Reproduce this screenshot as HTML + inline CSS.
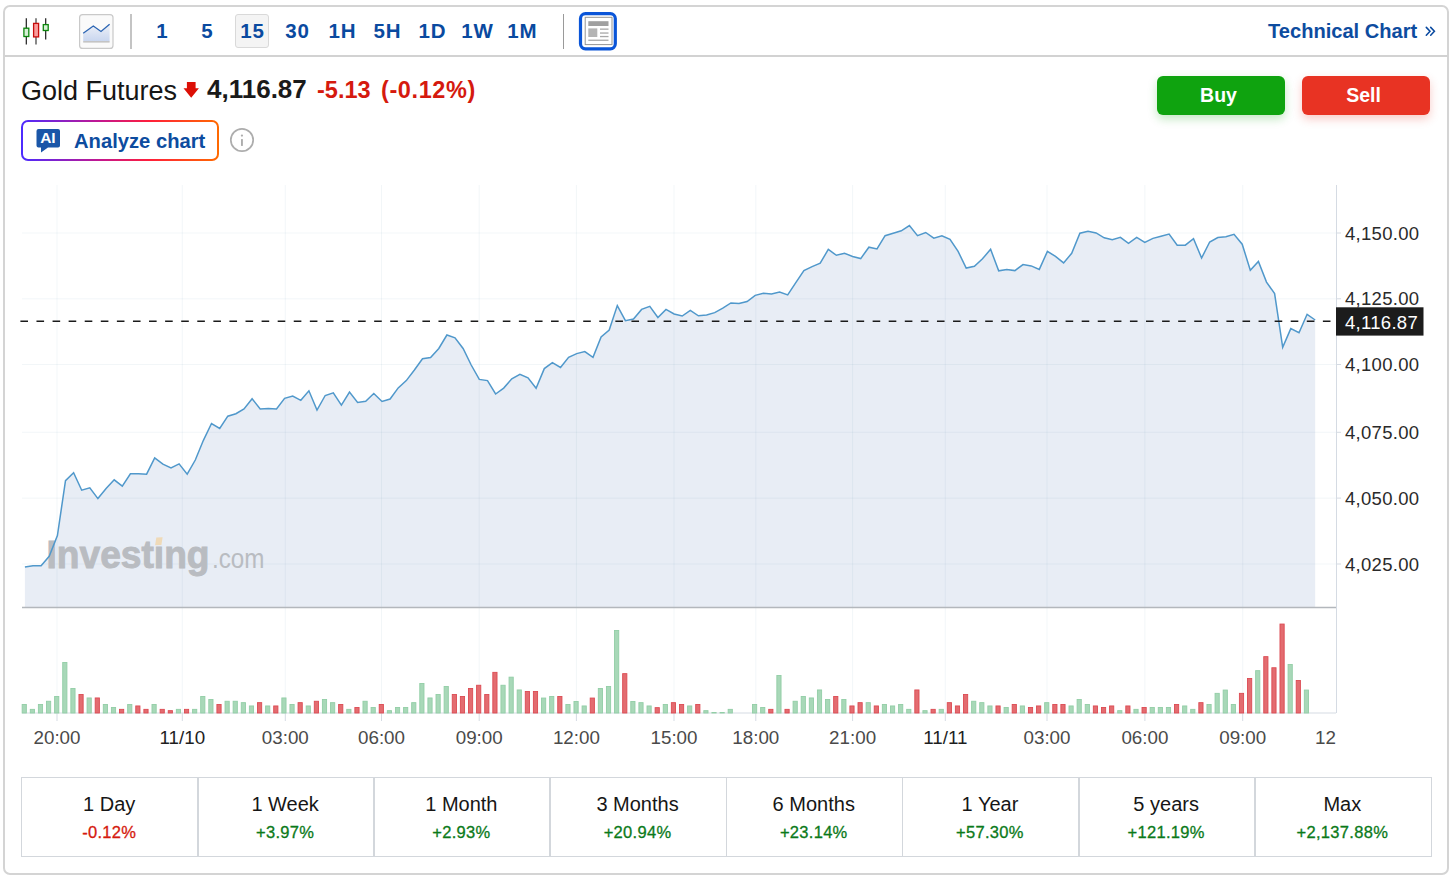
<!DOCTYPE html>
<html><head><meta charset="utf-8">
<style>
html,body{margin:0;padding:0;background:#fff;width:1456px;height:879px;overflow:hidden;font-family:"Liberation Sans",sans-serif;}
.abs{position:absolute;}
.frame{position:absolute;left:3px;top:5.4px;width:1442.3px;height:865.6px;border:2px solid #d4d4d4;border-radius:7px;box-sizing:content-box;}
.tbsep{position:absolute;left:5px;top:55px;width:1443px;height:1.6px;background:#d2d2d2;}
.tf{position:absolute;top:14px;height:34px;width:34px;line-height:33px;text-align:center;font-weight:bold;font-size:20.5px;letter-spacing:0.8px;text-indent:0.8px;color:#0a4aa0;}
.tf.sel{background:#f4f4f4;border:1px solid #d9d9d9;border-radius:3px;box-sizing:border-box;line-height:31px;}
.vsep{position:absolute;top:14px;width:2px;height:35px;background:#c4c4c4;}
.chart{position:absolute;left:0;top:0;}
.yl{font-family:"Liberation Sans",sans-serif;font-size:18.5px;letter-spacing:0.3px;fill:#2a2a2a;}
.pl{fill:#fff;}
.xl{font-family:"Liberation Sans",sans-serif;font-size:18.8px;fill:#4a4a4a;}
.xd{fill:#1e1e1e;}
.wm1{font-family:"Liberation Sans",sans-serif;font-weight:bold;font-size:39px;fill:#b9bcc1;stroke:#b9bcc1;stroke-width:1px;}
.wm2{font-family:"Liberation Sans",sans-serif;font-size:28px;fill:#b9bcc1;}
.title{position:absolute;left:21px;top:76px;font-size:27px;color:#161616;white-space:nowrap;}
.price{position:absolute;left:207px;top:74px;font-size:26px;font-weight:bold;color:#1a1a1a;white-space:nowrap;}
.chg{position:absolute;top:77px;font-size:23.5px;font-weight:bold;color:#d51a0e;white-space:nowrap;letter-spacing:0.6px;}
.btn{position:absolute;top:76px;width:128px;height:39px;border-radius:6px;color:#fff;font-weight:bold;font-size:19.5px;text-align:center;line-height:39px;box-sizing:border-box;padding-right:5px;}
.buy{left:1157px;background:#0fa30f;box-shadow:0 4px 10px rgba(15,163,15,0.25);}
.sell{left:1302px;background:#e83323;box-shadow:0 4px 10px rgba(232,51,35,0.25);}
.analyze{position:absolute;left:21px;top:120px;width:198px;height:41px;border-radius:7px;background:linear-gradient(90deg,#4b2bff,#c4178f 40%,#ff1f3a 65%,#ff6a00);box-sizing:border-box;}
.analyze .in{position:absolute;left:2px;top:2px;right:2px;bottom:2px;background:#fff;border-radius:5px;}
.antext{position:absolute;left:74px;top:129.5px;font-size:20.2px;font-weight:bold;color:#0d4c9f;white-space:nowrap;}
.tech{position:absolute;left:1268px;top:19.5px;font-size:20.1px;font-weight:bold;color:#0d4c9f;white-space:nowrap;}
.ptable{position:absolute;left:21px;top:777px;width:1411px;height:80px;border:1.5px solid #d3d7dc;box-sizing:border-box;}
.cell{position:absolute;top:0;height:78px;width:174.4px;text-align:center;}
.cell .n{position:absolute;left:0;right:0;top:14.5px;font-size:20px;color:#161616;}
.cell .v{position:absolute;left:0;right:0;top:45px;font-size:16.5px;letter-spacing:0.3px;color:#0b7a1a;-webkit-text-stroke:0.3px currentColor;}
.cell .v.neg{color:#d51a0e;}
.cdiv{position:absolute;top:0;width:1.5px;height:78px;background:#d3d7dc;}
</style></head><body>
<div class="frame"></div>
<div class="tbsep"></div>

<!-- candlestick icon -->
<svg class="abs" style="left:0;top:0" width="140" height="60" viewBox="0 0 140 60">
<line x1="26.3" y1="18.2" x2="26.3" y2="44.6" stroke="#1c1c1c" stroke-width="1.2"/>
<rect x="23.9" y="28.2" width="4.9" height="8.3" fill="#d6f0d6" stroke="#0b850b" stroke-width="1.3"/>
<line x1="36" y1="18.2" x2="36" y2="44.6" stroke="#4a4a4a" stroke-width="1.3"/>
<rect x="33.6" y="23.4" width="5" height="13.5" fill="#f99c9c" stroke="#c80c0c" stroke-width="1.3"/>
<line x1="45.7" y1="18.2" x2="45.7" y2="39.6" stroke="#1c1c1c" stroke-width="1.2"/>
<rect x="43.3" y="24.6" width="4.9" height="5.9" fill="#d6f0d6" stroke="#0b850b" stroke-width="1.3"/>
<!-- line chart button -->
<rect x="79.6" y="14.6" width="33.4" height="33.8" rx="3" fill="#fafafa" stroke="#c9c9c9" stroke-width="1.2"/>
<defs><linearGradient id="lg" x1="0" y1="0" x2="0" y2="1"><stop offset="0" stop-color="#eef1f8"/><stop offset="1" stop-color="#c9d6ef"/></linearGradient></defs>
<polygon points="83.2,33.2 93.3,26 101,31.5 109.6,24.2 109.6,41.3 83.2,41.3" fill="url(#lg)"/>
<polyline points="83.2,33.2 93.3,26 101,31.5 109.6,24.2" fill="none" stroke="#2c65b3" stroke-width="1.3"/>
<rect x="83.2" y="41" width="26.4" height="1.6" fill="#c4c4c4"/>
</svg>
<div class="vsep" style="left:130px"></div>

<div class="tf" style="left:145px">1</div>
<div class="tf" style="left:190px">5</div>
<div class="tf sel" style="left:235px">15</div>
<div class="tf" style="left:280px">30</div>
<div class="tf" style="left:325px">1H</div>
<div class="tf" style="left:370px">5H</div>
<div class="tf" style="left:415px">1D</div>
<div class="tf" style="left:460px">1W</div>
<div class="tf" style="left:505px">1M</div>
<div class="vsep" style="left:563px;width:1px;background:#9a9a9a"></div>

<!-- layout icon -->
<svg class="abs" style="left:570px;top:5px" width="56" height="52" viewBox="570 5 56 52">
<rect x="580.5" y="13.6" width="34.8" height="35.2" rx="5" fill="#fff" stroke="#0a55d8" stroke-width="3.2"/>
<rect x="585.2" y="17.3" width="26.8" height="27.3" fill="#fff" stroke="#949494" stroke-width="1"/>
<rect x="588.3" y="21.2" width="20.2" height="4.8" fill="#a0a0a0"/>
<rect x="588.3" y="28.4" width="9" height="8.6" fill="#b4b4b4"/>
<rect x="600" y="28.5" width="8.5" height="1.3" fill="#a8a8a8"/>
<rect x="600" y="32.4" width="8.5" height="1.3" fill="#a8a8a8"/>
<rect x="600" y="35.9" width="8.5" height="1.3" fill="#a8a8a8"/>
<rect x="588.3" y="39.6" width="20.2" height="1.3" fill="#a8a8a8"/>
</svg>

<div class="tech">Technical Chart</div>
<svg class="abs" style="left:1420px;top:20px" width="24" height="22" viewBox="1420 20 24 22">
<polyline points="1426.3,27.4 1430,31.3 1426.3,35.2" fill="none" stroke="#0a4aa0" stroke-width="1.55" stroke-linecap="round"/>
<polyline points="1430.7,27.4 1434.4,31.3 1430.7,35.2" fill="none" stroke="#0a4aa0" stroke-width="1.55" stroke-linecap="round"/>
</svg>

<div class="title">Gold Futures</div>
<svg class="abs" style="left:182px;top:81px" width="18" height="18" viewBox="0 0 18 18">
<polygon points="4.9,1 13.6,1 13.6,7.3 16.9,7.3 9.2,16.7 1.5,7.3 4.9,7.3" fill="#dc0f06"/>
</svg>
<div class="price">4,116.87</div>
<div class="chg" style="left:317px;letter-spacing:0">-5.13</div>
<div class="chg" style="left:381px">(-0.12%)</div>

<div class="btn buy">Buy</div>
<div class="btn sell">Sell</div>

<div class="analyze"><div class="in"></div></div>
<svg class="abs" style="left:35px;top:127px" width="28" height="28" viewBox="0 0 28 28">
<path d="M3.5,2 H23 Q25,2 25,4 V18.5 Q25,20.5 23,20.5 H13 L6,25.5 V20.5 H3.5 Q1.5,20.5 1.5,18.5 V4 Q1.5,2 3.5,2 Z" fill="#1a56a8"/>
<text x="12.8" y="15.7" text-anchor="middle" font-family="Liberation Sans" font-weight="bold" font-size="15.5" letter-spacing="-0.3" fill="#fff">AI</text>
</svg>
<div class="antext">Analyze chart</div>
<svg class="abs" style="left:228px;top:126px" width="28" height="28" viewBox="0 0 28 28">
<circle cx="14" cy="14" r="11.2" fill="none" stroke="#adadad" stroke-width="1.7"/>
<rect x="13" y="13.1" width="1.9" height="6.8" fill="#adadad"/>
<circle cx="13.95" cy="9.6" r="1.15" fill="#adadad"/>
</svg>

<svg class="chart" width="1456" height="879" viewBox="0 0 1456 879">
<defs><clipPath id="vc"><rect x="0" y="0" width="1336" height="879"/></clipPath></defs>
<polygon points="24.9,607 24.9,567.1 33.0,565.8 41.1,565.8 49.2,556.3 57.4,535.6 65.5,480.6 73.6,472.7 81.7,490.2 89.8,487.8 97.9,498.6 106.1,488.6 114.2,479.8 122.3,486.2 130.4,473.8 138.5,473.8 146.6,474.2 154.7,457.8 162.9,464.2 171.0,467.9 179.1,463.9 187.2,474.2 195.3,460.0 203.4,440.3 211.5,423.5 219.7,428.5 227.8,416.2 235.9,413.7 244.0,408.9 252.1,398.7 260.2,408.9 268.4,408.5 276.5,408.9 284.6,398.4 292.7,396.0 300.8,400.3 308.9,390.8 317.0,410.0 325.2,395.5 333.3,392.8 341.4,405.2 349.5,392.1 357.6,402.4 365.7,401.3 373.8,393.5 382.0,401.5 390.1,399.0 398.2,387.9 406.3,380.6 414.4,370.0 422.5,358.8 430.6,357.5 438.8,348.5 446.9,335.0 455.0,337.8 463.1,348.5 471.2,365.0 479.3,379.4 487.5,380.6 495.6,394.0 503.7,388.1 511.8,378.8 519.9,374.4 528.0,377.8 536.1,388.3 544.3,368.6 552.4,362.6 560.5,367.4 568.6,357.3 576.7,353.6 584.8,351.6 593.0,357.3 601.1,336.9 609.2,330.1 617.3,305.6 625.4,320.7 633.5,319.0 641.6,309.4 649.8,306.3 657.9,317.5 666.0,309.4 674.1,314.0 682.2,316.0 690.3,310.3 698.4,315.8 706.6,314.9 714.7,312.6 722.8,308.2 730.9,302.9 739.0,303.6 747.1,301.6 755.2,295.4 763.4,293.2 771.5,294.1 779.6,292.0 787.7,294.9 795.8,282.6 803.9,270.7 812.1,266.6 820.2,263.2 828.3,249.4 836.4,255.3 844.5,253.2 852.6,256.5 860.7,258.6 868.9,247.2 877.0,248.9 885.1,235.7 893.2,233.2 901.3,230.8 909.4,225.5 917.5,235.7 925.7,232.5 933.8,238.2 941.9,235.7 950.0,239.4 958.1,251.4 966.2,268.1 974.4,266.2 982.5,258.8 990.6,249.3 998.7,270.8 1006.8,269.6 1014.9,270.6 1023.0,264.6 1031.2,265.9 1039.3,269.4 1047.4,251.4 1055.5,256.4 1063.6,262.9 1071.7,253.3 1079.9,233.2 1088.0,231.3 1096.1,232.9 1104.2,237.8 1112.3,239.7 1120.4,237.4 1128.5,243.4 1136.7,237.4 1144.8,242.4 1152.9,238.4 1161.0,236.2 1169.1,234.1 1177.2,245.2 1185.3,245.2 1193.5,238.7 1201.6,258.0 1209.7,242.0 1217.8,237.5 1225.9,236.7 1234.0,234.3 1242.2,244.2 1250.3,270.2 1258.4,261.4 1266.5,282.1 1274.6,293.6 1282.7,347.4 1290.8,328.6 1299.0,332.7 1307.1,314.3 1315.2,320.0 1315.2,607" fill="#e8edf5"/>
<line x1="57" y1="185" x2="57" y2="713" stroke="rgba(60,120,150,0.065)" stroke-width="1"/>
<line x1="182.3" y1="185" x2="182.3" y2="713" stroke="rgba(60,120,150,0.065)" stroke-width="1"/>
<line x1="285.3" y1="185" x2="285.3" y2="713" stroke="rgba(60,120,150,0.065)" stroke-width="1"/>
<line x1="381.5" y1="185" x2="381.5" y2="713" stroke="rgba(60,120,150,0.065)" stroke-width="1"/>
<line x1="479.2" y1="185" x2="479.2" y2="713" stroke="rgba(60,120,150,0.065)" stroke-width="1"/>
<line x1="576.4" y1="185" x2="576.4" y2="713" stroke="rgba(60,120,150,0.065)" stroke-width="1"/>
<line x1="674" y1="185" x2="674" y2="713" stroke="rgba(60,120,150,0.065)" stroke-width="1"/>
<line x1="755.8" y1="185" x2="755.8" y2="713" stroke="rgba(60,120,150,0.065)" stroke-width="1"/>
<line x1="852.6" y1="185" x2="852.6" y2="713" stroke="rgba(60,120,150,0.065)" stroke-width="1"/>
<line x1="945.3" y1="185" x2="945.3" y2="713" stroke="rgba(60,120,150,0.065)" stroke-width="1"/>
<line x1="1047" y1="185" x2="1047" y2="713" stroke="rgba(60,120,150,0.065)" stroke-width="1"/>
<line x1="1144.9" y1="185" x2="1144.9" y2="713" stroke="rgba(60,120,150,0.065)" stroke-width="1"/>
<line x1="1242.7" y1="185" x2="1242.7" y2="713" stroke="rgba(60,120,150,0.065)" stroke-width="1"/>
<line x1="22" y1="233.0" x2="1336" y2="233.0" stroke="rgba(60,120,150,0.065)" stroke-width="1"/>
<line x1="1336" y1="233.0" x2="1341" y2="233.0" stroke="#d5dbe3" stroke-width="1"/>
<line x1="22" y1="298.8" x2="1336" y2="298.8" stroke="rgba(60,120,150,0.065)" stroke-width="1"/>
<line x1="1336" y1="298.8" x2="1341" y2="298.8" stroke="#d5dbe3" stroke-width="1"/>
<line x1="22" y1="364.5" x2="1336" y2="364.5" stroke="rgba(60,120,150,0.065)" stroke-width="1"/>
<line x1="1336" y1="364.5" x2="1341" y2="364.5" stroke="#d5dbe3" stroke-width="1"/>
<line x1="22" y1="432.3" x2="1336" y2="432.3" stroke="rgba(60,120,150,0.065)" stroke-width="1"/>
<line x1="1336" y1="432.3" x2="1341" y2="432.3" stroke="#d5dbe3" stroke-width="1"/>
<line x1="22" y1="498.1" x2="1336" y2="498.1" stroke="rgba(60,120,150,0.065)" stroke-width="1"/>
<line x1="1336" y1="498.1" x2="1341" y2="498.1" stroke="#d5dbe3" stroke-width="1"/>
<line x1="22" y1="564.0" x2="1336" y2="564.0" stroke="rgba(60,120,150,0.065)" stroke-width="1"/>
<line x1="1336" y1="564.0" x2="1341" y2="564.0" stroke="#d5dbe3" stroke-width="1"/>
<g class="wm">
<text x="46.5" y="568.3" class="wm1" textLength="163" lengthAdjust="spacingAndGlyphs">Investıng</text>
<polygon points="156.3,537.6 162.6,537.2 161.4,544.9 155.1,545.3" fill="#efdab8"/>
<text x="212" y="568.3" class="wm2" textLength="52.5" lengthAdjust="spacingAndGlyphs">.com</text>
</g>
<polyline points="24.9,567.1 33.0,565.8 41.1,565.8 49.2,556.3 57.4,535.6 65.5,480.6 73.6,472.7 81.7,490.2 89.8,487.8 97.9,498.6 106.1,488.6 114.2,479.8 122.3,486.2 130.4,473.8 138.5,473.8 146.6,474.2 154.7,457.8 162.9,464.2 171.0,467.9 179.1,463.9 187.2,474.2 195.3,460.0 203.4,440.3 211.5,423.5 219.7,428.5 227.8,416.2 235.9,413.7 244.0,408.9 252.1,398.7 260.2,408.9 268.4,408.5 276.5,408.9 284.6,398.4 292.7,396.0 300.8,400.3 308.9,390.8 317.0,410.0 325.2,395.5 333.3,392.8 341.4,405.2 349.5,392.1 357.6,402.4 365.7,401.3 373.8,393.5 382.0,401.5 390.1,399.0 398.2,387.9 406.3,380.6 414.4,370.0 422.5,358.8 430.6,357.5 438.8,348.5 446.9,335.0 455.0,337.8 463.1,348.5 471.2,365.0 479.3,379.4 487.5,380.6 495.6,394.0 503.7,388.1 511.8,378.8 519.9,374.4 528.0,377.8 536.1,388.3 544.3,368.6 552.4,362.6 560.5,367.4 568.6,357.3 576.7,353.6 584.8,351.6 593.0,357.3 601.1,336.9 609.2,330.1 617.3,305.6 625.4,320.7 633.5,319.0 641.6,309.4 649.8,306.3 657.9,317.5 666.0,309.4 674.1,314.0 682.2,316.0 690.3,310.3 698.4,315.8 706.6,314.9 714.7,312.6 722.8,308.2 730.9,302.9 739.0,303.6 747.1,301.6 755.2,295.4 763.4,293.2 771.5,294.1 779.6,292.0 787.7,294.9 795.8,282.6 803.9,270.7 812.1,266.6 820.2,263.2 828.3,249.4 836.4,255.3 844.5,253.2 852.6,256.5 860.7,258.6 868.9,247.2 877.0,248.9 885.1,235.7 893.2,233.2 901.3,230.8 909.4,225.5 917.5,235.7 925.7,232.5 933.8,238.2 941.9,235.7 950.0,239.4 958.1,251.4 966.2,268.1 974.4,266.2 982.5,258.8 990.6,249.3 998.7,270.8 1006.8,269.6 1014.9,270.6 1023.0,264.6 1031.2,265.9 1039.3,269.4 1047.4,251.4 1055.5,256.4 1063.6,262.9 1071.7,253.3 1079.9,233.2 1088.0,231.3 1096.1,232.9 1104.2,237.8 1112.3,239.7 1120.4,237.4 1128.5,243.4 1136.7,237.4 1144.8,242.4 1152.9,238.4 1161.0,236.2 1169.1,234.1 1177.2,245.2 1185.3,245.2 1193.5,238.7 1201.6,258.0 1209.7,242.0 1217.8,237.5 1225.9,236.7 1234.0,234.3 1242.2,244.2 1250.3,270.2 1258.4,261.4 1266.5,282.1 1274.6,293.6 1282.7,347.4 1290.8,328.6 1299.0,332.7 1307.1,314.3 1315.2,320.0" fill="none" stroke="#5098cb" stroke-width="1.5" stroke-linejoin="miter"/>
<line x1="22" y1="607.5" x2="1336" y2="607.5" stroke="#b3b7bc" stroke-width="1.5"/>
<line x1="1336.5" y1="185" x2="1336.5" y2="713" stroke="#d5dbe3" stroke-width="1"/>
<line x1="22" y1="713" x2="1336" y2="713" stroke="#d5dbe3" stroke-width="1"/>
<line x1="57" y1="713" x2="57" y2="721" stroke="#d5dbe3" stroke-width="1"/>
<line x1="182.3" y1="713" x2="182.3" y2="721" stroke="#d5dbe3" stroke-width="1"/>
<line x1="285.3" y1="713" x2="285.3" y2="721" stroke="#d5dbe3" stroke-width="1"/>
<line x1="381.5" y1="713" x2="381.5" y2="721" stroke="#d5dbe3" stroke-width="1"/>
<line x1="479.2" y1="713" x2="479.2" y2="721" stroke="#d5dbe3" stroke-width="1"/>
<line x1="576.4" y1="713" x2="576.4" y2="721" stroke="#d5dbe3" stroke-width="1"/>
<line x1="674" y1="713" x2="674" y2="721" stroke="#d5dbe3" stroke-width="1"/>
<line x1="755.8" y1="713" x2="755.8" y2="721" stroke="#d5dbe3" stroke-width="1"/>
<line x1="852.6" y1="713" x2="852.6" y2="721" stroke="#d5dbe3" stroke-width="1"/>
<line x1="945.3" y1="713" x2="945.3" y2="721" stroke="#d5dbe3" stroke-width="1"/>
<line x1="1047" y1="713" x2="1047" y2="721" stroke="#d5dbe3" stroke-width="1"/>
<line x1="1144.9" y1="713" x2="1144.9" y2="721" stroke="#d5dbe3" stroke-width="1"/>
<line x1="1242.7" y1="713" x2="1242.7" y2="721" stroke="#d5dbe3" stroke-width="1"/>
<rect x="22.15" y="704.45" width="4.2" height="8.55" fill="#a8d8b8" stroke="#92cea6" stroke-width="0.9"/>
<rect x="30.27" y="709.35" width="4.2" height="3.65" fill="#a8d8b8" stroke="#92cea6" stroke-width="0.9"/>
<rect x="38.38" y="704.45" width="4.2" height="8.55" fill="#a8d8b8" stroke="#92cea6" stroke-width="0.9"/>
<rect x="46.49" y="701.25" width="4.2" height="11.75" fill="#a8d8b8" stroke="#92cea6" stroke-width="0.9"/>
<rect x="54.61" y="696.45" width="4.2" height="16.55" fill="#a8d8b8" stroke="#92cea6" stroke-width="0.9"/>
<rect x="62.72" y="662.45" width="4.2" height="50.55" fill="#a8d8b8" stroke="#92cea6" stroke-width="0.9"/>
<rect x="70.84" y="688.45" width="4.2" height="24.55" fill="#a8d8b8" stroke="#92cea6" stroke-width="0.9"/>
<rect x="78.95" y="694.55" width="4.2" height="18.45" fill="#e36c70" stroke="#dc4b53" stroke-width="0.9"/>
<rect x="87.07" y="697.95" width="4.2" height="15.05" fill="#a8d8b8" stroke="#92cea6" stroke-width="0.9"/>
<rect x="95.19" y="697.95" width="4.2" height="15.05" fill="#e36c70" stroke="#dc4b53" stroke-width="0.9"/>
<rect x="103.30" y="704.45" width="4.2" height="8.55" fill="#a8d8b8" stroke="#92cea6" stroke-width="0.9"/>
<rect x="111.41" y="707.45" width="4.2" height="5.55" fill="#a8d8b8" stroke="#92cea6" stroke-width="0.9"/>
<rect x="119.53" y="709.35" width="4.2" height="3.65" fill="#e36c70" stroke="#dc4b53" stroke-width="0.9"/>
<rect x="127.65" y="704.45" width="4.2" height="8.55" fill="#a8d8b8" stroke="#92cea6" stroke-width="0.9"/>
<rect x="135.76" y="705.95" width="4.2" height="7.05" fill="#e36c70" stroke="#dc4b53" stroke-width="0.9"/>
<rect x="143.88" y="709.35" width="4.2" height="3.65" fill="#e36c70" stroke="#dc4b53" stroke-width="0.9"/>
<rect x="151.99" y="704.45" width="4.2" height="8.55" fill="#a8d8b8" stroke="#92cea6" stroke-width="0.9"/>
<rect x="160.11" y="709.35" width="4.2" height="3.65" fill="#e36c70" stroke="#dc4b53" stroke-width="0.9"/>
<rect x="168.22" y="710.65" width="4.2" height="2.35" fill="#e36c70" stroke="#dc4b53" stroke-width="0.9"/>
<rect x="176.34" y="709.35" width="4.2" height="3.65" fill="#a8d8b8" stroke="#92cea6" stroke-width="0.9"/>
<rect x="184.45" y="709.35" width="4.2" height="3.65" fill="#e36c70" stroke="#dc4b53" stroke-width="0.9"/>
<rect x="192.56" y="709.35" width="4.2" height="3.65" fill="#a8d8b8" stroke="#92cea6" stroke-width="0.9"/>
<rect x="200.68" y="696.45" width="4.2" height="16.55" fill="#a8d8b8" stroke="#92cea6" stroke-width="0.9"/>
<rect x="208.80" y="699.55" width="4.2" height="13.45" fill="#a8d8b8" stroke="#92cea6" stroke-width="0.9"/>
<rect x="216.91" y="704.45" width="4.2" height="8.55" fill="#e36c70" stroke="#dc4b53" stroke-width="0.9"/>
<rect x="225.03" y="701.25" width="4.2" height="11.75" fill="#a8d8b8" stroke="#92cea6" stroke-width="0.9"/>
<rect x="233.14" y="701.25" width="4.2" height="11.75" fill="#a8d8b8" stroke="#92cea6" stroke-width="0.9"/>
<rect x="241.26" y="702.65" width="4.2" height="10.35" fill="#a8d8b8" stroke="#92cea6" stroke-width="0.9"/>
<rect x="249.37" y="705.95" width="4.2" height="7.05" fill="#a8d8b8" stroke="#92cea6" stroke-width="0.9"/>
<rect x="257.49" y="702.65" width="4.2" height="10.35" fill="#e36c70" stroke="#dc4b53" stroke-width="0.9"/>
<rect x="265.60" y="705.95" width="4.2" height="7.05" fill="#a8d8b8" stroke="#92cea6" stroke-width="0.9"/>
<rect x="273.71" y="705.95" width="4.2" height="7.05" fill="#e36c70" stroke="#dc4b53" stroke-width="0.9"/>
<rect x="281.83" y="697.95" width="4.2" height="15.05" fill="#a8d8b8" stroke="#92cea6" stroke-width="0.9"/>
<rect x="289.94" y="704.45" width="4.2" height="8.55" fill="#a8d8b8" stroke="#92cea6" stroke-width="0.9"/>
<rect x="298.06" y="702.65" width="4.2" height="10.35" fill="#e36c70" stroke="#dc4b53" stroke-width="0.9"/>
<rect x="306.18" y="705.95" width="4.2" height="7.05" fill="#a8d8b8" stroke="#92cea6" stroke-width="0.9"/>
<rect x="314.29" y="701.25" width="4.2" height="11.75" fill="#e36c70" stroke="#dc4b53" stroke-width="0.9"/>
<rect x="322.40" y="699.55" width="4.2" height="13.45" fill="#a8d8b8" stroke="#92cea6" stroke-width="0.9"/>
<rect x="330.52" y="702.65" width="4.2" height="10.35" fill="#a8d8b8" stroke="#92cea6" stroke-width="0.9"/>
<rect x="338.63" y="704.45" width="4.2" height="8.55" fill="#e36c70" stroke="#dc4b53" stroke-width="0.9"/>
<rect x="346.75" y="709.35" width="4.2" height="3.65" fill="#a8d8b8" stroke="#92cea6" stroke-width="0.9"/>
<rect x="354.87" y="707.45" width="4.2" height="5.55" fill="#e36c70" stroke="#dc4b53" stroke-width="0.9"/>
<rect x="362.98" y="701.25" width="4.2" height="11.75" fill="#a8d8b8" stroke="#92cea6" stroke-width="0.9"/>
<rect x="371.09" y="707.45" width="4.2" height="5.55" fill="#a8d8b8" stroke="#92cea6" stroke-width="0.9"/>
<rect x="379.21" y="704.45" width="4.2" height="8.55" fill="#e36c70" stroke="#dc4b53" stroke-width="0.9"/>
<rect x="387.32" y="710.65" width="4.2" height="2.35" fill="#a8d8b8" stroke="#92cea6" stroke-width="0.9"/>
<rect x="395.44" y="707.45" width="4.2" height="5.55" fill="#a8d8b8" stroke="#92cea6" stroke-width="0.9"/>
<rect x="403.56" y="707.45" width="4.2" height="5.55" fill="#a8d8b8" stroke="#92cea6" stroke-width="0.9"/>
<rect x="411.67" y="702.65" width="4.2" height="10.35" fill="#a8d8b8" stroke="#92cea6" stroke-width="0.9"/>
<rect x="419.78" y="683.45" width="4.2" height="29.55" fill="#a8d8b8" stroke="#92cea6" stroke-width="0.9"/>
<rect x="427.90" y="697.95" width="4.2" height="15.05" fill="#a8d8b8" stroke="#92cea6" stroke-width="0.9"/>
<rect x="436.01" y="694.55" width="4.2" height="18.45" fill="#a8d8b8" stroke="#92cea6" stroke-width="0.9"/>
<rect x="444.13" y="686.55" width="4.2" height="26.45" fill="#a8d8b8" stroke="#92cea6" stroke-width="0.9"/>
<rect x="452.25" y="694.55" width="4.2" height="18.45" fill="#e36c70" stroke="#dc4b53" stroke-width="0.9"/>
<rect x="460.36" y="696.45" width="4.2" height="16.55" fill="#e36c70" stroke="#dc4b53" stroke-width="0.9"/>
<rect x="468.47" y="688.45" width="4.2" height="24.55" fill="#e36c70" stroke="#dc4b53" stroke-width="0.9"/>
<rect x="476.59" y="685.25" width="4.2" height="27.75" fill="#e36c70" stroke="#dc4b53" stroke-width="0.9"/>
<rect x="484.70" y="694.55" width="4.2" height="18.45" fill="#e36c70" stroke="#dc4b53" stroke-width="0.9"/>
<rect x="492.82" y="672.35" width="4.2" height="40.65" fill="#e36c70" stroke="#dc4b53" stroke-width="0.9"/>
<rect x="500.94" y="685.25" width="4.2" height="27.75" fill="#a8d8b8" stroke="#92cea6" stroke-width="0.9"/>
<rect x="509.05" y="677.15" width="4.2" height="35.85" fill="#a8d8b8" stroke="#92cea6" stroke-width="0.9"/>
<rect x="517.16" y="689.95" width="4.2" height="23.05" fill="#a8d8b8" stroke="#92cea6" stroke-width="0.9"/>
<rect x="525.28" y="691.45" width="4.2" height="21.55" fill="#e36c70" stroke="#dc4b53" stroke-width="0.9"/>
<rect x="533.39" y="691.55" width="4.2" height="21.45" fill="#e36c70" stroke="#dc4b53" stroke-width="0.9"/>
<rect x="541.51" y="698.05" width="4.2" height="14.95" fill="#a8d8b8" stroke="#92cea6" stroke-width="0.9"/>
<rect x="549.62" y="696.45" width="4.2" height="16.55" fill="#a8d8b8" stroke="#92cea6" stroke-width="0.9"/>
<rect x="557.74" y="696.45" width="4.2" height="16.55" fill="#e36c70" stroke="#dc4b53" stroke-width="0.9"/>
<rect x="565.86" y="704.55" width="4.2" height="8.45" fill="#a8d8b8" stroke="#92cea6" stroke-width="0.9"/>
<rect x="573.97" y="701.45" width="4.2" height="11.55" fill="#a8d8b8" stroke="#92cea6" stroke-width="0.9"/>
<rect x="582.09" y="705.95" width="4.2" height="7.05" fill="#a8d8b8" stroke="#92cea6" stroke-width="0.9"/>
<rect x="590.20" y="698.05" width="4.2" height="14.95" fill="#e36c70" stroke="#dc4b53" stroke-width="0.9"/>
<rect x="598.31" y="688.45" width="4.2" height="24.55" fill="#a8d8b8" stroke="#92cea6" stroke-width="0.9"/>
<rect x="606.43" y="686.55" width="4.2" height="26.45" fill="#a8d8b8" stroke="#92cea6" stroke-width="0.9"/>
<rect x="614.54" y="630.55" width="4.2" height="82.45" fill="#a8d8b8" stroke="#92cea6" stroke-width="0.9"/>
<rect x="622.66" y="673.65" width="4.2" height="39.35" fill="#e36c70" stroke="#dc4b53" stroke-width="0.9"/>
<rect x="630.77" y="701.45" width="4.2" height="11.55" fill="#a8d8b8" stroke="#92cea6" stroke-width="0.9"/>
<rect x="638.89" y="702.65" width="4.2" height="10.35" fill="#a8d8b8" stroke="#92cea6" stroke-width="0.9"/>
<rect x="647.00" y="705.95" width="4.2" height="7.05" fill="#a8d8b8" stroke="#92cea6" stroke-width="0.9"/>
<rect x="655.12" y="707.65" width="4.2" height="5.35" fill="#e36c70" stroke="#dc4b53" stroke-width="0.9"/>
<rect x="663.24" y="704.55" width="4.2" height="8.45" fill="#a8d8b8" stroke="#92cea6" stroke-width="0.9"/>
<rect x="671.35" y="702.65" width="4.2" height="10.35" fill="#e36c70" stroke="#dc4b53" stroke-width="0.9"/>
<rect x="679.47" y="704.55" width="4.2" height="8.45" fill="#e36c70" stroke="#dc4b53" stroke-width="0.9"/>
<rect x="687.58" y="705.95" width="4.2" height="7.05" fill="#a8d8b8" stroke="#92cea6" stroke-width="0.9"/>
<rect x="695.70" y="704.45" width="4.2" height="8.55" fill="#e36c70" stroke="#dc4b53" stroke-width="0.9"/>
<rect x="703.81" y="710.65" width="4.2" height="2.35" fill="#a8d8b8" stroke="#92cea6" stroke-width="0.9"/>
<rect x="711.92" y="712.45" width="4.2" height="0.55" fill="#a8d8b8" stroke="#92cea6" stroke-width="0.9"/>
<rect x="720.04" y="712.45" width="4.2" height="0.55" fill="#a8d8b8" stroke="#92cea6" stroke-width="0.9"/>
<rect x="728.15" y="709.35" width="4.2" height="3.65" fill="#a8d8b8" stroke="#92cea6" stroke-width="0.9"/>
<rect x="752.50" y="704.45" width="4.2" height="8.55" fill="#a8d8b8" stroke="#92cea6" stroke-width="0.9"/>
<rect x="760.62" y="707.45" width="4.2" height="5.55" fill="#a8d8b8" stroke="#92cea6" stroke-width="0.9"/>
<rect x="768.73" y="709.35" width="4.2" height="3.65" fill="#e36c70" stroke="#dc4b53" stroke-width="0.9"/>
<rect x="776.85" y="675.45" width="4.2" height="37.55" fill="#a8d8b8" stroke="#92cea6" stroke-width="0.9"/>
<rect x="784.96" y="709.35" width="4.2" height="3.65" fill="#e36c70" stroke="#dc4b53" stroke-width="0.9"/>
<rect x="793.08" y="701.25" width="4.2" height="11.75" fill="#a8d8b8" stroke="#92cea6" stroke-width="0.9"/>
<rect x="801.19" y="696.45" width="4.2" height="16.55" fill="#a8d8b8" stroke="#92cea6" stroke-width="0.9"/>
<rect x="809.30" y="697.95" width="4.2" height="15.05" fill="#a8d8b8" stroke="#92cea6" stroke-width="0.9"/>
<rect x="817.42" y="689.95" width="4.2" height="23.05" fill="#a8d8b8" stroke="#92cea6" stroke-width="0.9"/>
<rect x="825.53" y="699.55" width="4.2" height="13.45" fill="#a8d8b8" stroke="#92cea6" stroke-width="0.9"/>
<rect x="833.65" y="696.45" width="4.2" height="16.55" fill="#e36c70" stroke="#dc4b53" stroke-width="0.9"/>
<rect x="841.76" y="699.55" width="4.2" height="13.45" fill="#a8d8b8" stroke="#92cea6" stroke-width="0.9"/>
<rect x="849.88" y="705.95" width="4.2" height="7.05" fill="#e36c70" stroke="#dc4b53" stroke-width="0.9"/>
<rect x="858.00" y="702.65" width="4.2" height="10.35" fill="#e36c70" stroke="#dc4b53" stroke-width="0.9"/>
<rect x="866.11" y="702.65" width="4.2" height="10.35" fill="#a8d8b8" stroke="#92cea6" stroke-width="0.9"/>
<rect x="874.23" y="705.95" width="4.2" height="7.05" fill="#e36c70" stroke="#dc4b53" stroke-width="0.9"/>
<rect x="882.34" y="704.45" width="4.2" height="8.55" fill="#a8d8b8" stroke="#92cea6" stroke-width="0.9"/>
<rect x="890.46" y="705.95" width="4.2" height="7.05" fill="#a8d8b8" stroke="#92cea6" stroke-width="0.9"/>
<rect x="898.57" y="704.45" width="4.2" height="8.55" fill="#a8d8b8" stroke="#92cea6" stroke-width="0.9"/>
<rect x="906.68" y="709.35" width="4.2" height="3.65" fill="#a8d8b8" stroke="#92cea6" stroke-width="0.9"/>
<rect x="914.80" y="689.95" width="4.2" height="23.05" fill="#e36c70" stroke="#dc4b53" stroke-width="0.9"/>
<rect x="922.91" y="710.65" width="4.2" height="2.35" fill="#a8d8b8" stroke="#92cea6" stroke-width="0.9"/>
<rect x="931.03" y="709.35" width="4.2" height="3.65" fill="#e36c70" stroke="#dc4b53" stroke-width="0.9"/>
<rect x="939.14" y="709.35" width="4.2" height="3.65" fill="#a8d8b8" stroke="#92cea6" stroke-width="0.9"/>
<rect x="947.26" y="702.65" width="4.2" height="10.35" fill="#e36c70" stroke="#dc4b53" stroke-width="0.9"/>
<rect x="955.38" y="705.95" width="4.2" height="7.05" fill="#e36c70" stroke="#dc4b53" stroke-width="0.9"/>
<rect x="963.49" y="694.55" width="4.2" height="18.45" fill="#e36c70" stroke="#dc4b53" stroke-width="0.9"/>
<rect x="971.61" y="701.25" width="4.2" height="11.75" fill="#a8d8b8" stroke="#92cea6" stroke-width="0.9"/>
<rect x="979.72" y="702.65" width="4.2" height="10.35" fill="#a8d8b8" stroke="#92cea6" stroke-width="0.9"/>
<rect x="987.84" y="705.95" width="4.2" height="7.05" fill="#a8d8b8" stroke="#92cea6" stroke-width="0.9"/>
<rect x="995.95" y="705.95" width="4.2" height="7.05" fill="#e36c70" stroke="#dc4b53" stroke-width="0.9"/>
<rect x="1004.07" y="707.45" width="4.2" height="5.55" fill="#a8d8b8" stroke="#92cea6" stroke-width="0.9"/>
<rect x="1012.18" y="704.45" width="4.2" height="8.55" fill="#e36c70" stroke="#dc4b53" stroke-width="0.9"/>
<rect x="1020.29" y="705.95" width="4.2" height="7.05" fill="#a8d8b8" stroke="#92cea6" stroke-width="0.9"/>
<rect x="1028.41" y="707.45" width="4.2" height="5.55" fill="#e36c70" stroke="#dc4b53" stroke-width="0.9"/>
<rect x="1036.53" y="705.95" width="4.2" height="7.05" fill="#e36c70" stroke="#dc4b53" stroke-width="0.9"/>
<rect x="1044.64" y="702.65" width="4.2" height="10.35" fill="#a8d8b8" stroke="#92cea6" stroke-width="0.9"/>
<rect x="1052.76" y="704.45" width="4.2" height="8.55" fill="#e36c70" stroke="#dc4b53" stroke-width="0.9"/>
<rect x="1060.87" y="704.45" width="4.2" height="8.55" fill="#e36c70" stroke="#dc4b53" stroke-width="0.9"/>
<rect x="1068.99" y="705.95" width="4.2" height="7.05" fill="#a8d8b8" stroke="#92cea6" stroke-width="0.9"/>
<rect x="1077.10" y="699.55" width="4.2" height="13.45" fill="#a8d8b8" stroke="#92cea6" stroke-width="0.9"/>
<rect x="1085.22" y="704.45" width="4.2" height="8.55" fill="#a8d8b8" stroke="#92cea6" stroke-width="0.9"/>
<rect x="1093.33" y="705.95" width="4.2" height="7.05" fill="#e36c70" stroke="#dc4b53" stroke-width="0.9"/>
<rect x="1101.45" y="707.45" width="4.2" height="5.55" fill="#e36c70" stroke="#dc4b53" stroke-width="0.9"/>
<rect x="1109.56" y="705.95" width="4.2" height="7.05" fill="#e36c70" stroke="#dc4b53" stroke-width="0.9"/>
<rect x="1117.68" y="710.65" width="4.2" height="2.35" fill="#a8d8b8" stroke="#92cea6" stroke-width="0.9"/>
<rect x="1125.79" y="705.95" width="4.2" height="7.05" fill="#e36c70" stroke="#dc4b53" stroke-width="0.9"/>
<rect x="1133.91" y="709.35" width="4.2" height="3.65" fill="#a8d8b8" stroke="#92cea6" stroke-width="0.9"/>
<rect x="1142.02" y="707.45" width="4.2" height="5.55" fill="#e36c70" stroke="#dc4b53" stroke-width="0.9"/>
<rect x="1150.14" y="707.45" width="4.2" height="5.55" fill="#a8d8b8" stroke="#92cea6" stroke-width="0.9"/>
<rect x="1158.25" y="707.45" width="4.2" height="5.55" fill="#a8d8b8" stroke="#92cea6" stroke-width="0.9"/>
<rect x="1166.37" y="707.45" width="4.2" height="5.55" fill="#a8d8b8" stroke="#92cea6" stroke-width="0.9"/>
<rect x="1174.48" y="704.45" width="4.2" height="8.55" fill="#e36c70" stroke="#dc4b53" stroke-width="0.9"/>
<rect x="1182.60" y="705.95" width="4.2" height="7.05" fill="#a8d8b8" stroke="#92cea6" stroke-width="0.9"/>
<rect x="1190.71" y="709.35" width="4.2" height="3.65" fill="#a8d8b8" stroke="#92cea6" stroke-width="0.9"/>
<rect x="1198.83" y="702.65" width="4.2" height="10.35" fill="#e36c70" stroke="#dc4b53" stroke-width="0.9"/>
<rect x="1206.94" y="704.45" width="4.2" height="8.55" fill="#a8d8b8" stroke="#92cea6" stroke-width="0.9"/>
<rect x="1215.06" y="693.35" width="4.2" height="19.65" fill="#a8d8b8" stroke="#92cea6" stroke-width="0.9"/>
<rect x="1223.17" y="690.05" width="4.2" height="22.95" fill="#a8d8b8" stroke="#92cea6" stroke-width="0.9"/>
<rect x="1231.29" y="704.45" width="4.2" height="8.55" fill="#a8d8b8" stroke="#92cea6" stroke-width="0.9"/>
<rect x="1239.40" y="693.35" width="4.2" height="19.65" fill="#e36c70" stroke="#dc4b53" stroke-width="0.9"/>
<rect x="1247.52" y="678.55" width="4.2" height="34.45" fill="#e36c70" stroke="#dc4b53" stroke-width="0.9"/>
<rect x="1255.63" y="670.65" width="4.2" height="42.35" fill="#a8d8b8" stroke="#92cea6" stroke-width="0.9"/>
<rect x="1263.75" y="656.65" width="4.2" height="56.35" fill="#e36c70" stroke="#dc4b53" stroke-width="0.9"/>
<rect x="1271.86" y="667.75" width="4.2" height="45.25" fill="#e36c70" stroke="#dc4b53" stroke-width="0.9"/>
<rect x="1279.98" y="624.05" width="4.2" height="88.95" fill="#e36c70" stroke="#dc4b53" stroke-width="0.9"/>
<rect x="1288.09" y="664.45" width="4.2" height="48.55" fill="#a8d8b8" stroke="#92cea6" stroke-width="0.9"/>
<rect x="1296.21" y="680.55" width="4.2" height="32.45" fill="#e36c70" stroke="#dc4b53" stroke-width="0.9"/>
<rect x="1304.32" y="690.05" width="4.2" height="22.95" fill="#a8d8b8" stroke="#92cea6" stroke-width="0.9"/>
<line x1="20.4" y1="321.3" x2="1333" y2="321.3" stroke="#1a1a1a" stroke-width="1.4" stroke-dasharray="7.6 8.48"/>
<text x="1345" y="239.5" class="yl">4,150.00</text>
<text x="1345" y="305.3" class="yl">4,125.00</text>
<text x="1345" y="371.0" class="yl">4,100.00</text>
<text x="1345" y="438.8" class="yl">4,075.00</text>
<text x="1345" y="504.6" class="yl">4,050.00</text>
<text x="1345" y="570.5" class="yl">4,025.00</text>
<rect x="1336" y="307.3" width="87.5" height="28.3" fill="#1c1c1c"/>
<text x="1345" y="329" class="yl pl">4,116.87</text>
<text x="57" y="744" text-anchor="middle" class="xl">20:00</text>
<text x="182.3" y="744" text-anchor="middle" class="xl xd">11/10</text>
<text x="285.3" y="744" text-anchor="middle" class="xl">03:00</text>
<text x="381.5" y="744" text-anchor="middle" class="xl">06:00</text>
<text x="479.2" y="744" text-anchor="middle" class="xl">09:00</text>
<text x="576.4" y="744" text-anchor="middle" class="xl">12:00</text>
<text x="674" y="744" text-anchor="middle" class="xl">15:00</text>
<text x="755.8" y="744" text-anchor="middle" class="xl">18:00</text>
<text x="852.6" y="744" text-anchor="middle" class="xl">21:00</text>
<text x="945.3" y="744" text-anchor="middle" class="xl xd">11/11</text>
<text x="1047" y="744" text-anchor="middle" class="xl">03:00</text>
<text x="1144.9" y="744" text-anchor="middle" class="xl">06:00</text>
<text x="1242.7" y="744" text-anchor="middle" class="xl">09:00</text>
<text x="1336" y="744" text-anchor="end" class="xl">12</text>
</svg>

<div class="ptable">
<div class="cell" style="left:0"><div class="n">1 Day</div><div class="v neg">-0.12%</div></div>
<div class="cdiv" style="left:175px"></div>
<div class="cell" style="left:175.95px"><div class="n">1 Week</div><div class="v">+3.97%</div></div>
<div class="cdiv" style="left:351.2px"></div>
<div class="cell" style="left:352.15px"><div class="n">1 Month</div><div class="v">+2.93%</div></div>
<div class="cdiv" style="left:527.4px"></div>
<div class="cell" style="left:528.35px"><div class="n">3 Months</div><div class="v">+20.94%</div></div>
<div class="cdiv" style="left:703.6px"></div>
<div class="cell" style="left:704.55px"><div class="n">6 Months</div><div class="v">+23.14%</div></div>
<div class="cdiv" style="left:879.8px"></div>
<div class="cell" style="left:880.75px"><div class="n">1 Year</div><div class="v">+57.30%</div></div>
<div class="cdiv" style="left:1056px"></div>
<div class="cell" style="left:1056.95px"><div class="n">5 years</div><div class="v">+121.19%</div></div>
<div class="cdiv" style="left:1232.2px"></div>
<div class="cell" style="left:1233.15px"><div class="n">Max</div><div class="v">+2,137.88%</div></div>
</div>
</body></html>
